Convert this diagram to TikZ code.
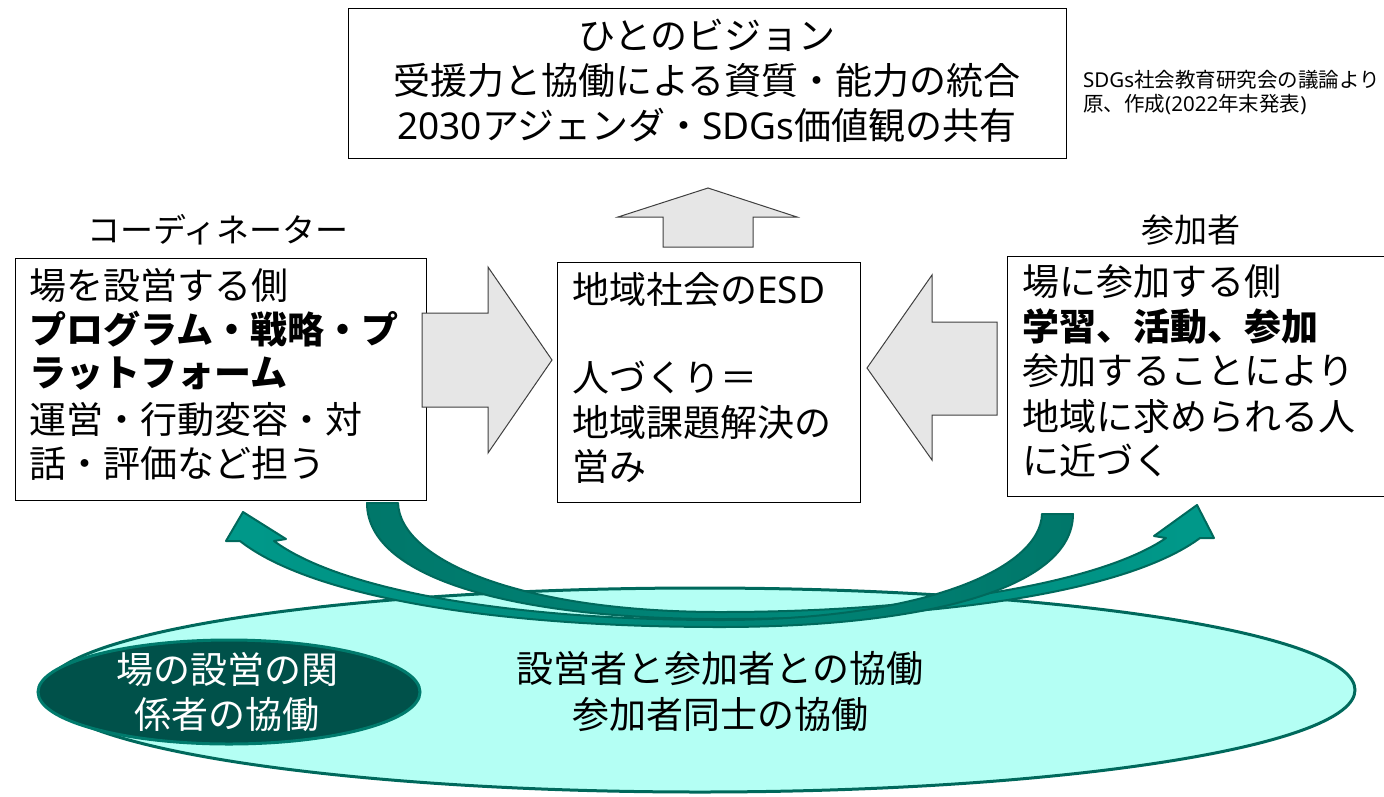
\documentclass[tikz,border=0pt]{standalone}
\usepackage{fontspec}
\setmainfont{Noto Sans CJK JP}
\newfontfamily\lat{Noto Sans}
\usetikzlibrary{shapes.geometric}
\definecolor{grayfill}{HTML}{E6E6E6}
\definecolor{grayline}{HTML}{3F3F3F}
\definecolor{aqua}{HTML}{B4FFF4}
\definecolor{tealline}{HTML}{00695C}
\definecolor{tealdark}{HTML}{00776A}
\definecolor{teallight}{HTML}{00998A}
\definecolor{deepteal}{HTML}{00514A}
\definecolor{ringteal}{HTML}{007A6C}
\newcommand{\fsz}[1]{\fontsize{#1}{#1}\selectfont}
\begin{document}
\begin{tikzpicture}[x=1pt,y=-1pt,
  box/.style={draw=black,line width=1.3pt,fill=white,inner sep=0pt,anchor=north west},
  blockarrow/.style={draw=grayline,line width=1pt,fill=grayfill,line join=miter},
  bandarrow/.style={draw=tealline,line width=2pt,line join=round},
  bigl/.style={font=\fsz{37},inner sep=0pt,anchor=west},
  bigc/.style={font=\fsz{37},inner sep=0pt,anchor=center},
  lbl/.style={font=\fsz{33},inner sep=0pt,anchor=center},
  note/.style={font=\fsz{20.5},inner sep=0pt,anchor=west},
  ringtxt/.style={font=\fsz{37},inner sep=0pt,anchor=center,text=white}]
\useasboundingbox (0,0) rectangle (1384,796);

% boxes
\node[box,minimum width=718pt,minimum height=150pt] (vision) at (348,8) {};
\node[box,minimum width=411pt,minimum height=242pt] (organizer) at (15,258) {};
\node[box,minimum width=303pt,minimum height=240pt] (esd) at (557,262) {};
\node[box,minimum width=390pt,minimum height=240pt] (participant) at (1007,256) {};

% block arrows
\path[blockarrow] (663,247) -- (663,217) -- (618,217) -- (708,188) -- (797,217) -- (753,217) -- (753,247) -- cycle;
\path[blockarrow] (422,313) -- (488,313) -- (488,267) -- (552,360) -- (488,453) -- (488,407) -- (422,407) -- cycle;
\path[blockarrow] (997,322) -- (932,322) -- (932,275) -- (867,368) -- (932,460) -- (932,415) -- (997,415) -- cycle;

% large ellipse
\node[ellipse,draw=tealline,line width=3pt,fill=aqua,minimum width=1310pt,minimum height=204pt,inner sep=0pt] (collab) at (700,690) {};

% curved arrows
\path[bandarrow,left color=tealdark,right color=teallight]
  (367,503) .. controls (367,580) and (520,619) .. (720,619)
  .. controls (950,619) and (1130,590) .. (1200,538)
  -- (1214,538) -- (1197,505) -- (1154,536) -- (1166,538)
  .. controls (1100,583) and (930,612) .. (720,612)
  .. controls (520,612) and (400,560) .. (398,503) -- cycle;
\path[bandarrow,left color=teallight,right color=tealdark]
  (1073,514) .. controls (1073,590) and (920,627) .. (720,627)
  .. controls (490,627) and (310,596) .. (240,541)
  -- (226,541) -- (243,512) -- (286,539) -- (274,541)
  .. controls (340,590) and (510,620) .. (720,620)
  .. controls (920,620) and (1040,570) .. (1042,514) -- cycle;

% dark ellipse
\node[ellipse,draw=ringteal,line width=3pt,fill=deepteal,minimum width=382pt,minimum height=104pt,inner sep=0pt] (stake) at (229,692) {};

% texts
\node[bigc] (v1) at (707,35) {ひとのビジョン};
\node[bigc] (v2) at (707,80) {受援力と協働による資質・能力の統合};
\node[bigc] (v3) at (707,125) {{\lat 2030}アジェンダ・{\lat SDGs}価値観の共有};

\node[note] (n1) at (1083,80) {{\lat SDGs}社会教育研究会の議論より};
\node[note] (n2) at (1083,104) {原、作成{\lat (2022}年末発表{\lat )}};

\node[lbl] (coordlbl) at (218,230) {コーディネーター};
\node[lbl] (partlbl) at (1191,230) {参加者};

\node[bigl] (o1) at (29,285) {場を設営する側};
\node[bigl] (o2) at (29,329) {\textbf{プログラム・戦略・プ}};
\node[bigl] (o3) at (29,374) {\textbf{ラットフォーム}};
\node[bigl] (o4) at (29,419) {運営・行動変容・対};
\node[bigl] (o5) at (29,463) {話・評価など担う};

\node[bigl] (e1) at (572,289) {地域社会の{\lat ESD}};
\node[bigl] (e2) at (572,378) {人づくり＝};
\node[bigl] (e3) at (572,422) {地域課題解決の};
\node[bigl] (e4) at (572,466) {営み};

\node[bigl] (p1) at (1022,282) {場に参加する側};
\node[bigl] (p2) at (1022,326) {\textbf{学習、活動、参加}};
\node[bigl] (p3) at (1022,371) {参加することにより};
\node[bigl] (p4) at (1022,416) {地域に求められる人};
\node[bigl] (p5) at (1022,460) {に近づく};

\node[ringtxt] (s1) at (227,669) {場の設営の関};
\node[ringtxt] (s2) at (227,715) {係者の協働};

\node[bigc] (c1) at (720,669) {設営者と参加者との協働};
\node[bigc] (c2) at (720,715) {参加者同士の協働};
\end{tikzpicture}
\end{document}
